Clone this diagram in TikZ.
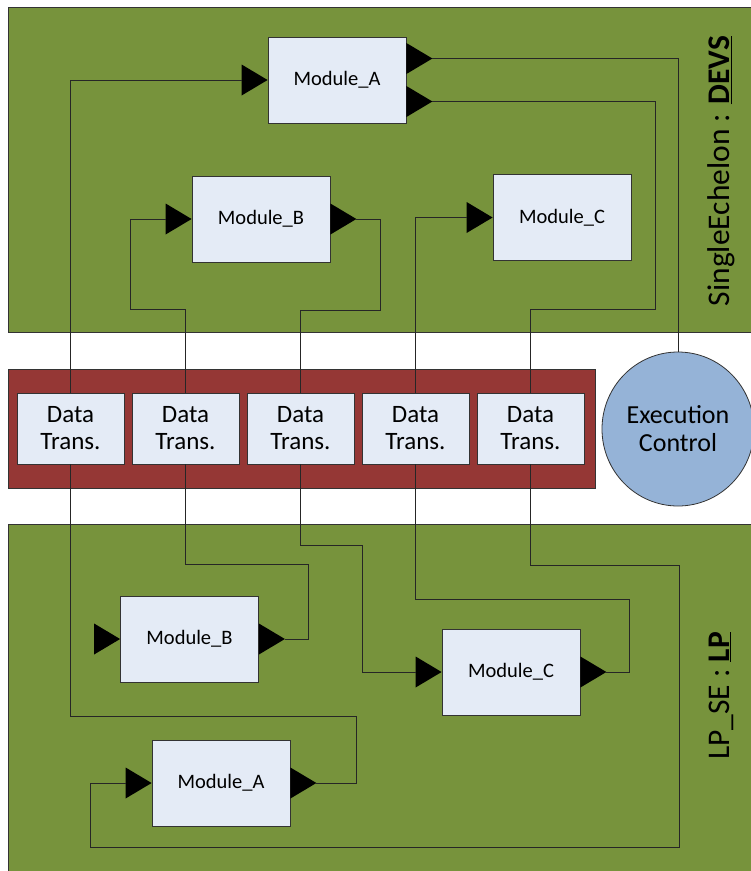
\documentclass[tikz,border=0pt]{standalone}
\usepackage{fontspec}
\setmainfont{Carlito}
\usetikzlibrary{positioning, shapes.geometric}

\definecolor{panelgreen}{HTML}{77933C}
\definecolor{bandred}{HTML}{953735}
\definecolor{modfill}{HTML}{E4EBF6}
\definecolor{ctrlblue}{HTML}{95B3D7}

\begin{document}
\begin{tikzpicture}[
    x=1pt, y=-1pt,
    panel/.style={draw=black!80, fill=panelgreen, line width=0.8pt},
    band/.style={draw=black!80, fill=bandred, line width=0.8pt},
    module/.style={draw=black!80, fill=modfill, line width=0.8pt, minimum width=138pt, minimum height=86pt, inner sep=0pt, font=\fontsize{20.5}{24}\selectfont},
    dtbox/.style={draw=black!80, fill=modfill, line width=0.8pt, minimum width=107pt, minimum height=71pt, inner sep=0pt, align=center, font=\fontsize{25}{27}\selectfont},
    ctrl/.style={ellipse, draw=black!80, fill=ctrlblue, line width=0.8pt, minimum width=152pt, minimum height=154pt, inner sep=0pt, align=center, font=\fontsize{26}{28}\selectfont},
    port/.style={isosceles triangle, isosceles triangle stretches, fill=black, inner sep=0pt, outer sep=0pt, minimum width=31pt, minimum height=26pt},
    wire/.style={draw=black!85, line width=0.8pt},
    tag/.style={rotate=90, font=\fontsize{31.5}{36}\selectfont}
  ]
    \useasboundingbox (0,0) rectangle (751,871);

    % the two model panels and the transfer band between them
    \draw[panel] (8,7) rectangle (770,332);
    \draw[panel] (8,524) rectangle (770,890);
    \draw[band] (8,369) rectangle (595,488);

    \node[tag] (devstag) at (721,171) {SingleEchelon : \underline{\textbf{DEVS}}};
    \node[tag] (lptag) at (721,696) {LP\_SE : \underline{\textbf{LP}}};

    % data transfer row
    \node[dtbox] (dt1) at (70.5,428.5) {Data\\Trans.};
    \node[dtbox, right=7.2pt of dt1] (dt2) {Data\\Trans.};
    \node[dtbox, right=7.2pt of dt2] (dt3) {Data\\Trans.};
    \node[dtbox, right=7.2pt of dt3] (dt4) {Data\\Trans.};
    \node[dtbox, right=7.2pt of dt4] (dt5) {Data\\Trans.};
    \node[ctrl] (exec) at (678,429) {Execution\\Control};

    % DEVS modules
    \node[module] (devsA) at (337,80) {Module\_A};
    \node[module] (devsB) at (261,219) {Module\_B};
    \node[module] (devsC) at (562,217.5) {Module\_C};
    \node[port, anchor=apex] (devsAin) at (devsA.west) {};
    \node[port, anchor=lower side] (devsAout1) at ([yshift=21.5pt]devsA.east) {};
    \node[port, anchor=lower side] (devsAout2) at ([yshift=-21.5pt]devsA.east) {};
    \node[port, anchor=apex] (devsBin) at (devsB.west) {};
    \node[port, anchor=lower side] (devsBout) at (devsB.east) {};
    \node[port, anchor=apex] (devsCin) at (devsC.west) {};

    % LP modules
    \node[module] (lpB) at (189.5,639) {Module\_B};
    \node[module] (lpC) at (511,672) {Module\_C};
    \node[module] (lpA) at (221,783) {Module\_A};
    \node[port, anchor=apex] (lpBin) at (lpB.west) {};
    \node[port, anchor=lower side] (lpBout) at (lpB.east) {};
    \node[port, anchor=apex] (lpCin) at (lpC.west) {};
    \node[port, anchor=lower side] (lpCout) at (lpC.east) {};
    \node[port, anchor=apex] (lpAin) at (lpA.west) {};
    \node[port, anchor=lower side] (lpAout) at (lpA.east) {};

    % wiring, upper panel
    \draw[wire] (dt1.north) |- (devsAin.lower side);
    \draw[wire] (devsAout1.apex) -| (exec.north);
    \draw[wire] (devsAout2.apex) -| (655,309) -| (dt5.north);
    \draw[wire] (dt2.north) |- (130,309) |- (devsBin.lower side);
    \draw[wire] (devsBout.apex) -| (380,310) -| (dt3.north);
    \draw[wire] (dt4.north) |- (devsCin.lower side);

    % wiring, lower panel
    \draw[wire] (lpBout.apex) -| (308,564) -| (dt2.south);
    \draw[wire] (dt3.south) |- (362,545) |- (lpCin.lower side);
    \draw[wire] (lpCout.apex) -| (629,599) -| (dt4.south);
    \draw[wire] (dt5.south) |- (679,565) |- (90.5,847) |- (lpAin.lower side);
    \draw[wire] (lpAout.apex) -| (356,716) -| (dt1.south);
  \end{tikzpicture}
\end{document}
